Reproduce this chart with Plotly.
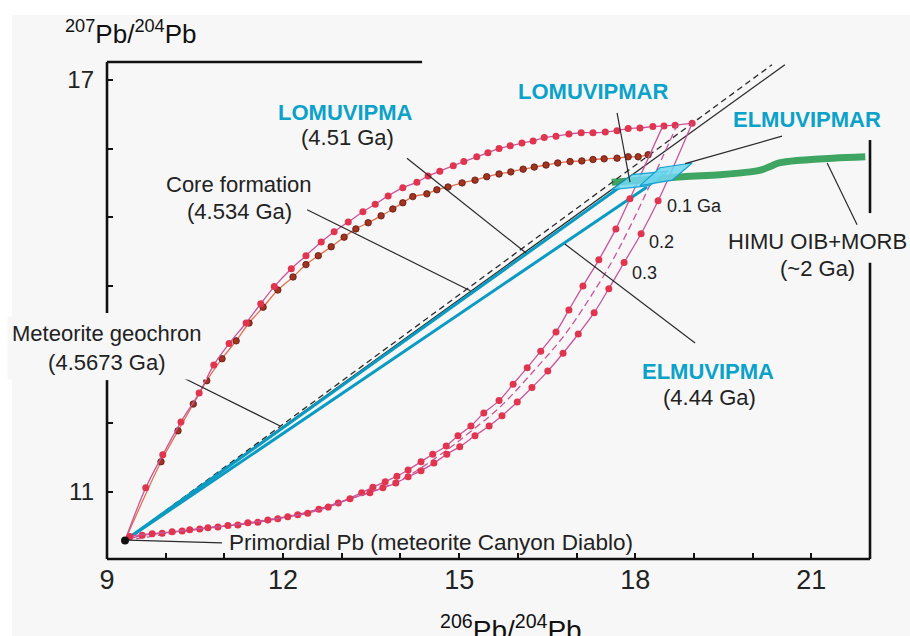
import plotly.graph_objects as go

# ---------------- data ----------------
primordial_x = [9.307]
primordial_y = [10.294]

# upper (concave-down) growth curve, pink line with crimson dots
u1_x = [9.66, 9.95, 10.26, 10.57, 10.82, 11.08, 11.37, 11.62, 11.85, 12.14, 12.39, 12.65, 12.87,
        13.11, 13.36, 13.57, 13.79, 14.04, 14.28, 14.47, 14.67, 14.90, 15.08, 15.30, 15.49, 15.68,
        15.87, 16.07, 16.26, 16.45, 16.65, 16.87, 17.08, 17.28, 17.49, 17.69, 17.88, 18.08, 18.30,
        18.49, 18.68, 18.97]
u1_y = [11.06, 11.54, 12.02, 12.44, 12.85, 13.16, 13.46, 13.74, 13.99, 14.25, 14.44, 14.64, 14.79,
        14.93, 15.08, 15.19, 15.31, 15.43, 15.51, 15.60, 15.67, 15.75, 15.81, 15.88, 15.94, 16.00,
        16.04, 16.08, 16.11, 16.16, 16.18, 16.21, 16.23, 16.23, 16.24, 16.26, 16.29, 16.30, 16.32,
        16.33, 16.34, 16.37]

# second upper curve, dark-red dots
u2_x = [9.92, 10.21, 10.47, 10.70, 10.96, 11.20, 11.42, 11.66, 11.91, 12.17, 12.39, 12.60, 12.82,
        13.04, 13.24, 13.45, 13.67, 13.87, 14.04, 14.21, 14.45, 14.62, 14.81, 15.05, 15.27, 15.47,
        15.68, 15.88, 16.09, 16.28, 16.48, 16.68, 16.89, 17.09, 17.28, 17.47, 17.69, 17.88, 18.05,
        18.22]
u2_y = [11.44, 11.89, 12.28, 12.62, 12.94, 13.20, 13.46, 13.69, 13.94, 14.13, 14.31, 14.44, 14.57,
        14.71, 14.83, 14.92, 15.02, 15.12, 15.21, 15.30, 15.34, 15.40, 15.44, 15.50, 15.54, 15.59,
        15.63, 15.66, 15.70, 15.73, 15.76, 15.79, 15.81, 15.82, 15.84, 15.85, 15.86, 15.88, 15.88,
        15.91]

# lower (concave-up) curves
l1_x = [9.60, 9.94, 10.28, 10.58, 10.89, 11.23, 11.57, 11.91, 12.25, 12.61, 12.94, 13.34, 13.53,
        13.74, 13.94, 14.13, 14.35, 14.55, 14.78, 14.98, 15.20, 15.42, 15.68, 15.92, 16.16, 16.39,
        16.65, 16.87, 17.11, 17.38, 17.67, 17.91]
l1_y = [10.37, 10.40, 10.43, 10.46, 10.49, 10.52, 10.56, 10.61, 10.67, 10.75, 10.84, 10.99, 11.07,
        11.15, 11.23, 11.32, 11.44, 11.55, 11.67, 11.82, 11.96, 12.15, 12.33, 12.57, 12.81, 13.05,
        13.33, 13.65, 14.00, 14.38, 14.83, 15.27]
l1_end_x = [18.47]
l1_end_y = [16.33]

l3_x = [9.39, 9.77, 10.11, 10.41, 10.72, 11.06, 11.40, 11.74, 12.08, 12.42, 12.77, 13.14, 13.48,
        13.70, 13.92, 14.13, 14.35, 14.57, 14.79, 15.01, 15.27, 15.51, 15.73, 15.99, 16.24, 16.51,
        16.77, 17.03, 17.30, 17.55, 17.81, 18.10, 18.39]
l3_y = [10.35, 10.39, 10.42, 10.45, 10.48, 10.51, 10.55, 10.59, 10.64, 10.69, 10.78, 10.90, 10.99,
        11.06, 11.13, 11.22, 11.31, 11.42, 11.55, 11.66, 11.82, 11.96, 12.11, 12.31, 12.52, 12.76,
        13.02, 13.30, 13.61, 13.96, 14.34, 14.76, 15.24]
l3_end_x = [18.97]
l3_end_y = [16.37]

l2_x = [9.307, 10.58, 12.29, 13.14, 13.99, 14.79, 15.18, 15.70, 16.29, 16.80, 17.23, 17.60, 17.91,
        18.25, 18.71]
l2_y = [10.294, 10.46, 10.68, 10.90, 11.17, 11.61, 11.87, 12.24, 12.78, 13.29, 13.83, 14.35, 14.86,
        15.47, 16.34]

# isochrons / geochrons from primordial Pb
geochron_x = [9.307, 20.33]
geochron_y = [10.294, 17.22]
core_x = [9.307, 20.55]
core_y = [10.294, 17.22]
lomuvipma_x = [9.307, 17.74]
lomuvipma_y = [10.294, 15.44]
elmuvipma_x = [9.307, 18.20]
elmuvipma_y = [10.294, 15.44]

# HIMU OIB + MORB field
himu_x = [17.60, 18.08, 18.81, 19.44, 19.96, 20.15, 20.30, 20.45, 20.81, 21.37, 21.92]
himu_y = [15.51, 15.54, 15.59, 15.62, 15.66, 15.69, 15.74, 15.79, 15.83, 15.86, 15.88]

# present-day mantle reservoir boxes
lomar_x = [17.60, 17.95, 18.56, 18.25, 17.60]
lomar_y = [15.40, 15.62, 15.67, 15.46, 15.40]
elmar_x = [18.08, 18.42, 18.97, 18.63, 18.08]
elmar_y = [15.46, 15.72, 15.79, 15.54, 15.46]

x_ticks = [9, 10, 11, 12, 13, 14, 15, 16, 17, 18, 19, 20, 21]
x_ticktext = ["9", "", "", "12", "", "", "15", "", "", "18", "", "", "21"]
y_ticks = [11, 12, 13, 14, 15, 16, 17]
y_ticktext = ["11", "", "", "", "", "", "17"]

# ---------------- styles ----------------
FONT = "Arial, 'Liberation Sans', sans-serif"
BG = "#f7f7f7"
PINK_LINE = "#c9559c"
DOT = "#e0344f"
CYAN = "#0b9bc2"
CYAN_TXT = "#0aa2c9"
INK = "#2a2a2a"
TS = 22

fig = go.Figure()

fig.add_trace(go.Scatter(x=himu_x, y=himu_y, mode="lines",
                         line=dict(color="#3fa562", width=7, shape="spline"), hoverinfo="skip"))
fig.add_trace(go.Scatter(x=geochron_x, y=geochron_y, mode="lines",
                         line=dict(color=INK, width=1.3, dash="6px,4px")))
fig.add_trace(go.Scatter(x=core_x, y=core_y, mode="lines", line=dict(color=INK, width=1.3)))
fig.add_trace(go.Scatter(x=lomuvipma_x, y=lomuvipma_y, mode="lines", line=dict(color=CYAN, width=3)))
fig.add_trace(go.Scatter(x=elmuvipma_x, y=elmuvipma_y, mode="lines", line=dict(color=CYAN, width=3)))

# dark upper curve
fig.add_trace(go.Scatter(x=primordial_x + u2_x, y=primordial_y + u2_y, mode="lines",
                         line=dict(color="#e2714f", width=1.3, shape="spline")))
fig.add_trace(go.Scatter(x=u2_x, y=u2_y, mode="markers",
                         marker=dict(color="#a3321f", size=6.5, line=dict(color="#5a1a12", width=0.8))))
# pink upper curve
fig.add_trace(go.Scatter(x=primordial_x + u1_x, y=primordial_y + u1_y, mode="lines",
                         line=dict(color=PINK_LINE, width=1.3, shape="spline")))
fig.add_trace(go.Scatter(x=u1_x, y=u1_y, mode="markers", marker=dict(color=DOT, size=7)))

# lower curves
fig.add_trace(go.Scatter(x=l2_x, y=l2_y, mode="lines",
                         line=dict(color=PINK_LINE, width=1.3, dash="7px,4px", shape="spline")))
fig.add_trace(go.Scatter(x=primordial_x + l1_x + l1_end_x, y=primordial_y + l1_y + l1_end_y,
                         mode="lines", line=dict(color=PINK_LINE, width=1.3, shape="spline")))
fig.add_trace(go.Scatter(x=l1_x, y=l1_y, mode="markers", marker=dict(color=DOT, size=7)))
fig.add_trace(go.Scatter(x=primordial_x + l3_x + l3_end_x, y=primordial_y + l3_y + l3_end_y,
                         mode="lines", line=dict(color=PINK_LINE, width=1.3, shape="spline")))
fig.add_trace(go.Scatter(x=l3_x, y=l3_y, mode="markers", marker=dict(color=DOT, size=7)))

# reservoir boxes
for bx, by in ((lomar_x, lomar_y), (elmar_x, elmar_y)):
    fig.add_trace(go.Scatter(x=bx, y=by, mode="lines", fill="toself",
                             fillcolor="rgba(110,215,240,0.85)",
                             line=dict(color="#139fd0", width=1.2)))

fig.add_trace(go.Scatter(x=primordial_x, y=primordial_y, mode="markers",
                         marker=dict(color="#111", size=8)))

# ---------------- frame lines and leader lines ----------------
shapes = []
frame = dict(type="line", xref="paper", yref="paper", line=dict(color="#111", width=2.6))
for (x0, y0, x1, y1) in [(0, 0, 1, 0), (0, 0, 0, 0.360), (0, 0.495, 0, 1), (0, 1, 0.413, 1),
                         (1, 0, 1, 0.596), (1, 0.696, 1, 0.843)]:
    shapes.append(dict(frame, x0=x0, y0=y0, x1=x1, y1=y1))

leaders = [
    (14.11, 15.86, 16.14, 14.48),   # LOMUVIPMA
    (12.41, 15.11, 15.19, 13.93),   # Core formation
    (10.16, 12.72, 11.95, 11.96),   # Meteorite geochron
    (19.02, 13.17, 16.80, 14.61),   # ELMUVIPMA
    (17.69, 16.52, 17.91, 15.51),   # LOMUVIPMAR
    (20.50, 16.18, 18.85, 15.78),   # ELMUVIPMAR
    (21.78, 14.89, 21.27, 15.79),   # HIMU
    (9.36, 10.30, 10.96, 10.26),    # primordial
]
for (x0, y0, x1, y1) in leaders:
    shapes.append(dict(type="line", xref="x", yref="y", x0=x0, y0=y0, x1=x1, y1=y1,
                       line=dict(color=INK, width=1.2)))

# white border strip of the original picture
shapes.append(dict(type="rect", xref="paper", yref="paper", x0=-0.1402, x1=1.0524, y0=1.0946,
                   y1=1.13, fillcolor="white", line=dict(width=0), layer="below"))
shapes.append(dict(type="rect", xref="paper", yref="paper", x0=-0.1402, x1=-0.1245, y0=-0.16,
                   y1=1.13, fillcolor="white", line=dict(width=0), layer="below"))

# ---------------- annotations ----------------
def txt(x, y, s, size=TS, color="#222", xanchor="center", bold=False, **kw):
    return dict(x=x, y=y, xref="x", yref="y", text=("<b>%s</b>" % s) if bold else s,
                showarrow=False, xanchor=xanchor, yanchor="middle",
                font=dict(family=FONT, size=size, color=color), **kw)

annotations = [
    txt(13.06, 16.53, "LOMUVIPMA", color=CYAN_TXT, bold=True),
    txt(13.09, 16.16, "(4.51 Ga)"),
    txt(11.25, 15.47, "Core formation"),
    txt(11.25, 15.08, "(4.534 Ga)"),
    txt(9.0, 13.10, "Meteorite geochron<br>(4.5673 Ga)", bgcolor=BG, borderpad=4),
    txt(19.24, 12.75, "ELMUVIPMA", color=CYAN_TXT, bold=True),
    txt(19.27, 12.38, "(4.44 Ga)"),
    txt(17.28, 16.83, "LOMUVIPMAR", color=CYAN_TXT, bold=True),
    txt(20.93, 16.43, "ELMUVIPMAR", color=CYAN_TXT, bold=True),
    txt(21.11, 14.64, "HIMU OIB+MORB"),
    txt(21.11, 14.26, "(~2 Ga)"),
    txt(18.51, 15.17, "0.1 Ga", size=18, xanchor="left"),
    txt(18.20, 14.64, "0.2", size=18, xanchor="left"),
    txt(17.91, 14.19, "0.3", size=18, xanchor="left"),
    txt(11.04, 10.27, "Primordial Pb (meteorite Canyon Diablo)", size=22.5, xanchor="left"),
    dict(x=-0.058, y=1.06, xref="paper", yref="paper", xanchor="left", yanchor="middle",
         text="<sup>207</sup>Pb/<sup>204</sup>Pb", showarrow=False,
         font=dict(family=FONT, size=26, color="#111")),
    dict(x=0.529, y=-0.098, xref="paper", yref="paper", xanchor="center", yanchor="top",
         text="<sup>206</sup>Pb/<sup>204</sup>Pb", showarrow=False,
         font=dict(family=FONT, size=28, color="#111")),
]

fig.update_layout(
    width=910, height=636,
    margin=dict(l=107, r=40, t=62, b=77),
    paper_bgcolor=BG, plot_bgcolor=BG,
    showlegend=False,
    shapes=shapes, annotations=annotations,
    xaxis=dict(range=[9, 22], showgrid=False, zeroline=False, showline=False,
               tickvals=x_ticks, ticktext=x_ticktext, ticks="inside", ticklen=6, tickwidth=2,
               tickcolor="#111", ticklabelstandoff=2,
               tickfont=dict(family=FONT, size=27, color="#222")),
    yaxis=dict(range=[10.024, 17.26], showgrid=False, zeroline=False, showline=False,
               tickvals=y_ticks, ticktext=y_ticktext, ticks="inside", ticklen=6, tickwidth=2,
               tickcolor="#111", ticklabelstandoff=12,
               tickfont=dict(family=FONT, size=24, color="#222")),
)

fig.write_html("out.html")
